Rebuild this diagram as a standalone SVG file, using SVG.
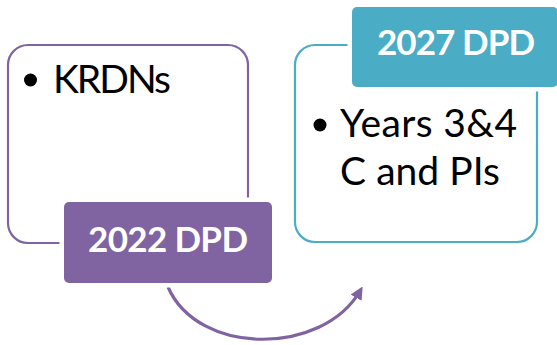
<svg xmlns="http://www.w3.org/2000/svg" width="557" height="345" viewBox="0 0 557 345">
<defs>
<style>
.box{fill:#fff;stroke-width:2.2}
.lbl{stroke:#fff;stroke-width:9;paint-order:stroke}
.t{font-family:Lato,"Liberation Sans",sans-serif;font-size:39px;fill:#000}
.h{font-family:Lato,"Liberation Sans",sans-serif;font-size:35px;font-weight:bold;fill:#fff;text-anchor:middle}
</style>
<marker id="ah" viewBox="0 0 10 10" refX="6" refY="5" markerWidth="4" markerHeight="4" orient="auto" markerUnits="strokeWidth">
<path d="M0,0 L10,5 L0,10 z" fill="#8064A2"/>
</marker>
</defs>
<g id="connectors">
<path d="M168,287 C198,356 322,356 360,291" fill="none" stroke="#8064A2" stroke-width="3.2" marker-end="url(#ah)"/>
</g>
<g id="node-left">
<rect class="box" x="8" y="45" width="240" height="198" rx="20" stroke="#8064A2"/>
<circle cx="30.5" cy="80" r="6.5" fill="#000"/>
<text class="t" x="53" y="93" textLength="118">KRDNs</text>
</g>
<g id="label-2022">
<rect class="lbl" x="64" y="202" width="208" height="81" rx="5" fill="#8064A2"/>
<text class="h" x="168" y="252" textLength="160">2022 DPD</text>
</g>
<g id="node-right">
<rect class="box" x="295" y="45" width="242" height="197" rx="20" stroke="#4BACC6"/>
<circle cx="320" cy="125" r="6.5" fill="#000"/>
<text class="t" x="340" y="137" textLength="177">Years 3&amp;4</text>
<text class="t" x="340" y="185" textLength="160">C and PIs</text>
</g>
<g id="label-2027">
<rect class="lbl" x="352" y="7" width="206" height="80" rx="5" fill="#4BACC6"/>
<text class="h" x="456" y="55" textLength="158">2027 DPD</text>
</g>
</svg>
